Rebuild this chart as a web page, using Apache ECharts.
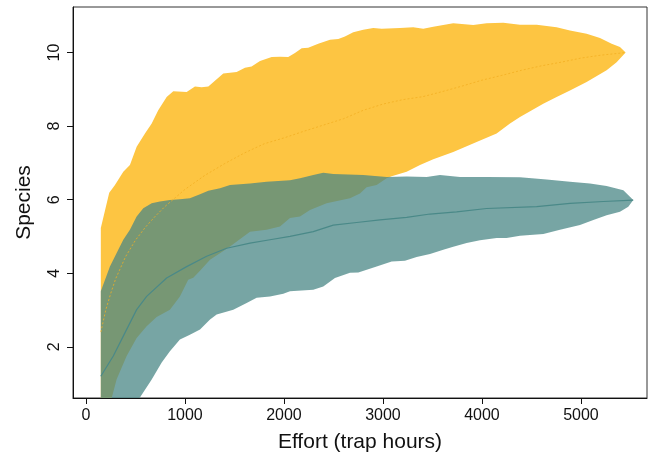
<!DOCTYPE html>
<html>
<head>
<meta charset="utf-8">
<script src="https://cdn.jsdelivr.net/npm/echarts@6/dist/echarts.min.js"></script>
<style>
  html, body { margin: 0; padding: 0; background: #fff; }
  #chart { width: 649px; height: 458px; }
</style>
</head>
<body>
<div id="chart"></div>
<script>
// Species accumulation curves: mean with confidence envelope for two sites
const xTicks = [0, 1000, 2000, 3000, 4000, 5000];
const yTicks = [2, 4, 6, 8, 10];

// Site A (gold)
const yellowUpper = [[150,5.23],[235,6.19],[293,6.40],[377,6.76],[444,6.94],[512,7.44],[596,7.80],[664,8.07],[730,8.43],[815,8.79],[882,8.95],[1017,8.93],[1101,9.08],[1168,9.06],[1236,9.08],[1387,9.43],[1522,9.47],[1606,9.59],[1673,9.62],[1758,9.77],[1876,9.88],[1960,9.89],[2043,9.88],[2111,9.99],[2179,10.12],[2245,10.13],[2346,10.24],[2465,10.35],[2549,10.37],[2616,10.44],[2700,10.55],[2801,10.62],[2902,10.67],[2987,10.65],[3172,10.67],[3306,10.69],[3407,10.65],[3508,10.70],[3710,10.80],[3912,10.75],[4047,10.80],[4215,10.81],[4384,10.76],[4553,10.76],[4754,10.69],[4889,10.60],[5057,10.51],[5192,10.40],[5310,10.24],[5394,10.15],[5451,10.0]];
const yellowLower = [[150,0.2],[260,0.61],[310,1.12],[411,1.75],[512,2.24],[613,2.56],[714,2.81],[848,3.01],[949,3.37],[1033,3.82],[1084,3.88],[1152,4.07],[1253,4.37],[1354,4.54],[1455,4.73],[1657,5.13],[1825,5.18],[1960,5.27],[2061,5.50],[2162,5.54],[2263,5.72],[2431,5.90],[2667,6.04],[2768,6.17],[2835,6.34],[2936,6.40],[3037,6.58],[3088,6.64],[3239,6.76],[3374,6.94],[3508,7.10],[3710,7.30],[3946,7.57],[4148,7.80],[4283,8.07],[4384,8.25],[4619,8.61],[4754,8.79],[4889,8.97],[5057,9.20],[5259,9.52],[5360,9.74],[5451,10.0]];
const yellowMean = [[150,2.4],[200,3.0],[250,3.45],[300,3.85],[400,4.45],[500,4.9],[600,5.25],[700,5.55],[800,5.82],[900,6.05],[1000,6.28],[1200,6.66],[1400,6.98],[1600,7.27],[1800,7.52],[2000,7.68],[2200,7.86],[2400,8.03],[2600,8.2],[2800,8.43],[3000,8.6],[3200,8.72],[3400,8.8],[3600,8.94],[3800,9.09],[4000,9.25],[4200,9.38],[4400,9.52],[4600,9.64],[4800,9.74],[5000,9.85],[5200,9.93],[5450,10.0]];

// Site B (teal)
const tealUpper = [[150,3.51],[242,4.18],[310,4.55],[377,4.91],[444,5.18],[512,5.54],[579,5.77],[664,5.90],[747,5.95],[848,5.99],[949,6.01],[1050,6.04],[1152,6.15],[1236,6.24],[1354,6.31],[1455,6.40],[1657,6.44],[1825,6.49],[2061,6.53],[2162,6.58],[2296,6.67],[2397,6.73],[2498,6.70],[2801,6.67],[3037,6.62],[3239,6.63],[3441,6.62],[3576,6.67],[3778,6.62],[4047,6.62],[4384,6.61],[4653,6.55],[4889,6.49],[5091,6.44],[5259,6.37],[5428,6.26],[5495,6.08],[5528,5.99]];
const tealLower = [[150,0.0],[545,0.62],[664,1.11],[765,1.57],[848,1.88],[949,2.20],[1050,2.33],[1152,2.47],[1253,2.74],[1320,2.88],[1488,3.01],[1623,3.19],[1724,3.33],[1859,3.37],[1993,3.44],[2061,3.51],[2296,3.55],[2397,3.64],[2515,3.87],[2667,4.01],[2751,4.02],[2936,4.18],[3088,4.32],[3222,4.34],[3340,4.44],[3475,4.52],[3609,4.64],[3710,4.72],[3845,4.82],[3980,4.90],[4148,4.96],[4249,4.96],[4384,5.02],[4620,5.07],[4788,5.18],[4990,5.31],[5125,5.45],[5259,5.58],[5394,5.67],[5478,5.81],[5528,5.99]];
const tealMean = [[150,1.2],[276,1.75],[377,2.29],[512,3.01],[613,3.37],[815,3.87],[1017,4.18],[1219,4.46],[1421,4.68],[1657,4.82],[1859,4.91],[2061,5.0],[2296,5.13],[2498,5.31],[2734,5.38],[2970,5.45],[3239,5.52],[3475,5.61],[3744,5.67],[4047,5.76],[4553,5.81],[4889,5.90],[5226,5.95],[5528,5.99]];

const FONT = '"Liberation Sans", Arial, Helvetica, sans-serif';

// Closed envelope polygon: upper edge left-to-right, lower edge back
function bandSeries(upper, lower, fill) {
  return {
    type: 'custom',
    clip: true,
    silent: true,
    data: [[upper[0][0], upper[0][1]]],
    renderItem: function (params, api) {
      const pts = upper.map(p => api.coord(p))
        .concat(lower.slice().reverse().map(p => api.coord(p)));
      return {
        type: 'polygon',
        shape: { points: pts },
        style: { fill: fill, stroke: null }
      };
    }
  };
}

const plain = v => String(v);

const chart = echarts.init(document.getElementById('chart'), null, { renderer: 'canvas' });
chart.setOption({
  animation: false,
  backgroundColor: '#ffffff',
  grid: {
    left: 73, right: 2, top: 7, bottom: 59,
    show: true, borderColor: '#333', borderWidth: 1, backgroundColor: 'transparent'
  },
  xAxis: {
    type: 'value',
    min: -131, max: 5667,
    name: 'Effort (trap hours)',
    nameLocation: 'middle',
    nameGap: 34,
    nameTextStyle: { fontFamily: FONT, fontSize: 21, color: '#111' },
    axisLine: { show: true, onZero: false, lineStyle: { color: '#111', width: 1 } },
    axisTick: { show: true, inside: false, length: 6, customValues: xTicks, lineStyle: { color: '#111' } },
    axisLabel: { customValues: xTicks, formatter: plain, fontFamily: FONT, fontSize: 16, color: '#111', margin: 10 },
    splitLine: { show: false }
  },
  yAxis: {
    type: 'value',
    min: 0.607, max: 11.24,
    name: 'Species',
    nameLocation: 'middle',
    nameGap: 38,
    nameRotate: 90,
    nameTextStyle: { fontFamily: FONT, fontSize: 21, color: '#111' },
    axisLine: { show: true, onZero: false, lineStyle: { color: '#111', width: 1 } },
    axisTick: { show: true, inside: false, length: 6, customValues: yTicks, lineStyle: { color: '#111' } },
    axisLabel: { customValues: yTicks, formatter: plain, rotate: 90, fontFamily: FONT, fontSize: 16, color: '#111', margin: 10 },
    splitLine: { show: false }
  },
  series: [
    bandSeries(yellowUpper, yellowLower, 'rgb(253,197,66)'),
    {
      type: 'line', data: yellowMean, showSymbol: false, silent: true, clip: true,
      lineStyle: { color: '#F2AE22', width: 0.8, type: [2, 2] }
    },
    bandSeries(tealUpper, tealLower, 'rgba(74,135,134,0.75)'),
    {
      type: 'line', data: tealMean, showSymbol: false, silent: true, clip: true,
      lineStyle: { color: '#4A8988', width: 1.2 }
    }
  ]
});
</script>
</body>
</html>
